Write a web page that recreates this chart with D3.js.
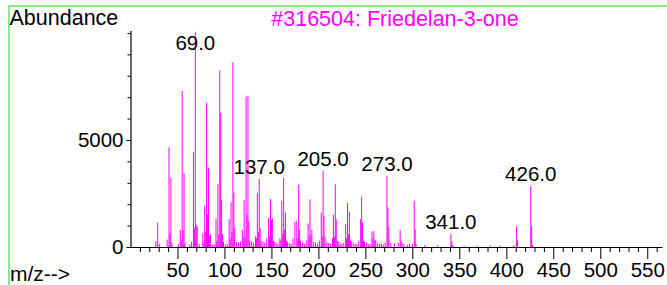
<!DOCTYPE html>
<html>
<head>
<meta charset="utf-8">
<script src="https://cdn.jsdelivr.net/npm/d3@7"></script>
<style>
  body { margin: 0; background: #fff; }
  svg { display: block; font-family: "Liberation Sans", Arial, sans-serif; }
</style>
</head>
<body>
<div id="spectrum"></div>
<script>
// Chart text
var title = "#316504: Friedelan-3-one";
var yTitle = "Abundance";
var xTitle = "m/z-->";

// Peaks: m/z and abundance
var mz = [27, 29, 31, 39, 41, 42, 43, 44, 51, 53, 54, 55, 56, 57, 58, 63, 65, 67, 68, 69, 70, 71, 73,
  77, 78, 79, 80, 81, 82, 83, 84, 85, 87, 89, 91, 92, 93, 94, 95, 96, 97, 98, 99, 101, 103,
  105, 106, 107, 108, 109, 110, 111, 113, 115, 117, 119, 120, 121, 122, 123, 124, 125, 126, 127, 129, 131,
  133, 134, 135, 136, 137, 138, 139, 141, 143, 145, 147, 148, 149, 150, 151, 152, 153, 155, 157,
  159, 160, 161, 162, 163, 164, 165, 166, 167, 169, 171, 173, 175, 177, 178, 179, 180, 181, 183, 185,
  187, 189, 190, 191, 192, 193, 195, 197, 199, 201, 203, 204, 205, 206, 207, 209, 211, 213,
  215, 216, 217, 218, 219, 220, 221, 223, 225, 227, 229, 230, 231, 232, 233, 234, 235, 237, 239, 241,
  243, 245, 246, 247, 248, 249, 251, 253, 255, 257, 258, 259, 260, 261, 263, 265, 267, 269, 271, 273, 274, 275,
  277, 281, 285, 287, 288, 289, 291, 295, 297, 300, 302, 303, 304, 313, 327, 341, 342, 343, 355, 369, 383, 393, 408,
  411, 412, 426, 427, 428];
var abundance = [280, 1130, 150, 350, 4660, 600, 3240, 200, 150, 800, 350, 7290, 800, 3440, 200, 120, 250, 4450, 900, 10060, 1030, 950, 150,
  650, 200, 1930, 700, 6740, 1500, 3700, 500, 600, 120, 150, 1300, 300, 2940, 600, 8240, 6250, 2200, 600, 250, 120, 150,
  1300, 400, 2090, 700, 8630, 2540, 900, 250, 200, 250, 800, 400, 2200, 500, 7020, 1500, 7070, 1200, 300, 250, 200,
  500, 400, 2520, 700, 3180, 900, 300, 250, 200, 400, 1350, 500, 2240, 1260, 1350, 300, 250, 200, 150,
  400, 300, 2150, 600, 3240, 800, 1600, 300, 250, 200, 150, 400, 1180, 1230, 400, 2900, 800, 300, 200, 150,
  300, 1100, 500, 2230, 600, 800, 250, 200, 150, 300, 1600, 500, 3570, 1450, 500, 250, 200, 150,
  400, 1500, 500, 2930, 1290, 300, 250, 200, 150, 200, 1070, 400, 2070, 600, 1650, 300, 250, 200, 150, 150,
  300, 1300, 2350, 1140, 300, 250, 200, 150, 150, 720, 400, 750, 300, 330, 200, 150, 150, 120, 200, 3330, 1850, 930,
  200, 150, 200, 800, 300, 200, 150, 120, 150, 150, 2150, 830, 150, 80, 80, 610, 250, 80, 60, 50, 60, 60, 80,
  970, 300, 2850, 980, 90];

// Labelled peaks
var labelMz = [69, 137, 205, 273, 341, 426];

// Axis ticks
var xMajor = [50, 100, 150, 200, 250, 300, 350, 400, 450, 500, 550];
var yMajor = [0, 5000];

var width = 667, height = 285;

var svg = d3.select("#spectrum").append("svg")
    .attr("width", width)
    .attr("height", height);

// Scales
var x = d3.scaleLinear().domain([0, 565.7]).range([130.5, 662]);
var y = d3.scaleLinear().domain([0, 10120]).range([247, 30.4]);

// Green frame (top and left only)
svg.append("path")
    .attr("d", "M9,286V6H667")
    .attr("fill", "none")
    .attr("stroke", "#80f080")
    .attr("stroke-width", 2);

// Peaks
var peaks = mz.map(function(d, i) { return {mz: d, v: abundance[i]}; });

svg.append("g").selectAll("line")
    .data(peaks)
  .enter().append("line")
    .attr("x1", function(d) { return x(d.mz); })
    .attr("x2", function(d) { return x(d.mz); })
    .attr("y1", y(0))
    .attr("y2", function(d) { return y(d.v); })
    .attr("stroke", "#ff00ff")
    .attr("stroke-width", 1);

// X axis: minor ticks every 10, major every 50
var xMinor = d3.range(10, 566, 10).filter(function(d) { return d % 50 !== 0; });

svg.append("g")
    .attr("transform", "translate(0," + y(0) + ")")
    .call(d3.axisBottom(x).tickValues(xMinor).tickSize(5).tickFormat("").tickSizeOuter(0))
    .call(function(g) { g.select(".domain").attr("stroke-width", 1.2); });

svg.append("g")
    .attr("transform", "translate(0," + y(0) + ")")
    .call(d3.axisBottom(x).tickValues(xMajor).tickSize(12).tickPadding(3).tickSizeOuter(0))
    .call(function(g) {
      g.select(".domain").remove();
      g.selectAll("text").attr("font-size", "20.5px").attr("fill", "#000")
        .attr("font-family", "'Liberation Sans', Arial, sans-serif");
    });

// Y axis: minor ticks every 1000, labels at 0 and 5000
svg.append("g")
    .attr("transform", "translate(" + x(0) + ",0)")
    .call(d3.axisLeft(y).tickValues(d3.range(1000, 10001, 1000)).tickSize(3).tickFormat("").tickSizeOuter(0))
    .call(function(g) { g.select(".domain").attr("stroke-width", 1.2); });

svg.append("g")
    .attr("transform", "translate(" + x(0) + ",0)")
    .call(d3.axisLeft(y).tickValues(yMajor).tickSize(4).tickPadding(3).tickFormat(d3.format("d")))
    .call(function(g) {
      g.select(".domain").remove();
      g.selectAll("text").attr("font-size", "20.5px").attr("fill", "#000")
        .attr("font-family", "'Liberation Sans', Arial, sans-serif");
    });

// Peak labels, kept below the title area
var f1 = d3.format(".1f");
svg.append("g").selectAll("text")
    .data(labelMz)
  .enter().append("text")
    .attr("x", function(d) { return x(d); })
    .attr("y", function(d) { return Math.max(y(abundance[mz.indexOf(d)]) - 5, 50); })
    .attr("text-anchor", "middle")
    .attr("font-size", "20.5px")
    .attr("fill", "#000")
    .text(function(d) { return f1(d); });

// Titles
svg.append("text")
    .attr("x", 9.5)
    .attr("y", 25)
    .attr("font-size", "21.5px")
    .text(yTitle);

svg.append("text")
    .attr("x", 395)
    .attr("y", 26)
    .attr("text-anchor", "middle")
    .attr("font-size", "21.5px")
    .attr("fill", "#ff00ff")
    .text(title);

svg.append("text")
    .attr("x", 10)
    .attr("y", 281)
    .attr("font-size", "21px")
    .text(xTitle);
</script>
</body>
</html>
